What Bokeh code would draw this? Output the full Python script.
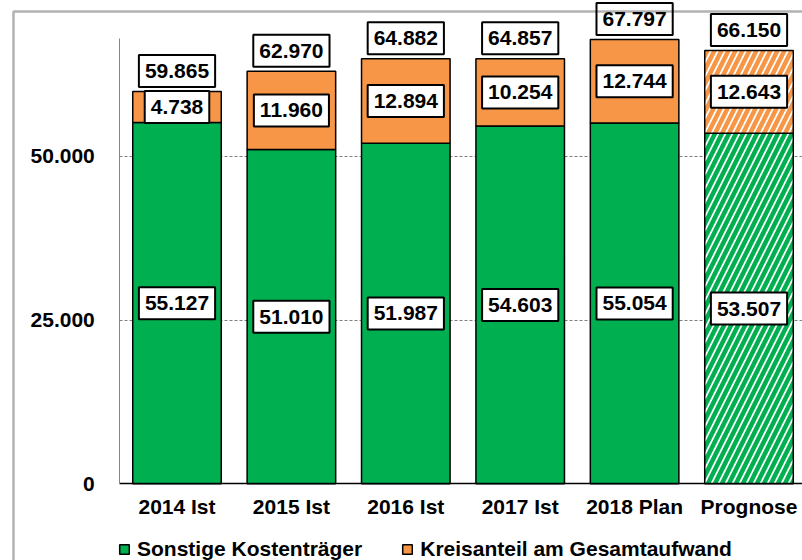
from bokeh.plotting import figure
from bokeh.models import (ColumnDataSource, Range1d, FixedTicker, Legend, LegendItem,
                          BoxAnnotation)
from bokeh.core.properties import value
from bokeh.embed import file_html
from bokeh.resources import INLINE

categories = ["2014 Ist", "2015 Ist", "2016 Ist", "2017 Ist", "2018 Plan", "Prognose"]
sonstige = [55127, 51010, 51987, 54603, 55054, 53507]
kreisanteil = [4738, 11960, 12894, 10254, 12744, 12643]
totals = [59865, 62970, 64882, 64857, 67797, 66150]
forecast = [False, False, False, False, False, True]
series_names = ["Sonstige Kostenträger", "Kreisanteil am Gesamtaufwand"]
y_ticks = [0, 25000, 50000]
y_tick_labels = ["0", "25.000", "50.000"]
grid_ticks = [25000, 50000]
y_axis_max = 68000

GREEN = "#00B050"
ORANGE = "#F79646"
FONT = "Liberation Sans"
BAR_W = 0.774

# canvas geometry (pixels)
W, H = 802, 560
AXIS_X = 119.3          # y-axis position on canvas
ZERO_Y = 483.3          # y=0 position on canvas
PX_PER_CAT = 114.4
PX_PER_UNIT = 0.006552

x_start = -0.5 - AXIS_X / PX_PER_CAT
x_end = -0.5 + (W - AXIS_X) / PX_PER_CAT
y_end = ZERO_Y / PX_PER_UNIT
y_start = -(H - ZERO_Y) / PX_PER_UNIT


def de(v):
    return f"{v:,}".replace(",", ".")


xs = list(range(len(categories)))


def make_src(flag):
    idx = [i for i in xs if forecast[i] == flag]
    return ColumnDataSource(dict(
        x=[xs[i] for i in idx],
        g_top=[sonstige[i] for i in idx],
        o_top=[sonstige[i] + kreisanteil[i] for i in idx],
    ))


src_act = make_src(False)
src_fc = make_src(True)

p = figure(width=W, height=H, x_range=Range1d(x_start, x_end), y_range=Range1d(y_start, y_end),
           output_backend="svg", toolbar_location=None,
           min_border_left=0, min_border_right=0, min_border_top=0, min_border_bottom=0)
p.outline_line_color = None

# outer chart border (left and top edges visible; right/bottom lie outside the window)
p.add_layout(BoxAnnotation(left=x_start + 13 / PX_PER_CAT, right=x_end + 1,
                           top=y_end - 11 / PX_PER_UNIT, bottom=y_start - 20000,
                           fill_alpha=0, line_color="black", line_width=2.5))

green_r = p.vbar(x="x", width=BAR_W, bottom=0, top="g_top", source=src_act,
                 fill_color=GREEN, line_color="black", line_width=1.5)
orange_r = p.vbar(x="x", width=BAR_W, bottom="g_top", top="o_top", source=src_act,
                  fill_color=ORANGE, line_color="black", line_width=1.5)
p.vbar(x="x", width=BAR_W, bottom=0, top="g_top", source=src_fc,
       fill_color="white", hatch_pattern="/", hatch_color=GREEN, hatch_scale=14, hatch_weight=4.5,
       line_color="black", line_width=1.5)
p.vbar(x="x", width=BAR_W, bottom="g_top", top="o_top", source=src_fc,
       fill_color="white", hatch_pattern="/", hatch_color=ORANGE, hatch_scale=14, hatch_weight=4.5,
       line_color="black", line_width=1.5)

lab_green = ColumnDataSource(dict(x=xs, y=[v / 2 for v in sonstige], t=[de(v) for v in sonstige]))
lab_orange = ColumnDataSource(dict(x=xs, y=[g + o / 2 for g, o in zip(sonstige, kreisanteil)],
                                   t=[de(v) for v in kreisanteil]))
lab_total = ColumnDataSource(dict(x=xs, y=[g + o for g, o in zip(sonstige, kreisanteil)],
                                  t=[de(v) for v in totals]))

for src, yoff in [(lab_green, 0), (lab_orange, 0), (lab_total, -20.5)]:
    p.text(x="x", y="y", text="t", source=src, y_offset=yoff,
           text_font=value(FONT), text_font_style="bold", text_font_size="21px",
           text_color="black", text_align="center", text_baseline="middle",
           background_fill_color="white", border_line_color="black", border_line_width=2,
           padding=dict(x=6, y=9))

# axes
p.xaxis.fixed_location = 0
p.xaxis.ticker = FixedTicker(ticks=xs)
p.xaxis.major_label_overrides = {i: c for i, c in zip(xs, categories)}
p.xaxis.bounds = (-0.5, x_end)
p.xaxis.axis_line_color = "black"
p.xaxis.axis_line_width = 1.5
p.xaxis.major_tick_line_color = None
p.xaxis.minor_tick_line_color = None
p.xaxis.major_label_standoff = 5
p.xaxis.major_label_text_font = FONT
p.xaxis.major_label_text_font_style = "bold"
p.xaxis.major_label_text_font_size = "21px"
p.xaxis.major_label_text_color = "black"

p.yaxis.fixed_location = -0.5
p.yaxis.ticker = FixedTicker(ticks=y_ticks)
p.yaxis.bounds = (0, y_axis_max)
p.yaxis.major_label_overrides = {t: l for t, l in zip(y_ticks, y_tick_labels)}
p.yaxis.axis_line_color = "#868686"
p.yaxis.major_tick_line_color = None
p.yaxis.minor_tick_line_color = None
p.yaxis.major_label_standoff = 19
p.yaxis.major_label_text_font = FONT
p.yaxis.major_label_text_font_style = "bold"
p.yaxis.major_label_text_font_size = "21px"
p.yaxis.major_label_text_color = "black"

p.xgrid.visible = False
p.ygrid.ticker = FixedTicker(ticks=grid_ticks)
p.ygrid.cross_bounds = (-0.5, x_end)
p.ygrid.grid_line_color = "#808080"
p.ygrid.grid_line_dash = "3 2"
p.ygrid.grid_line_width = 1

legend = Legend(items=[LegendItem(label=series_names[0], renderers=[green_r]),
                       LegendItem(label=series_names[1], renderers=[orange_r])],
                orientation="horizontal", location=(118, -1),
                glyph_width=12, glyph_height=12, label_standoff=7, spacing=39,
                padding=0, margin=0, border_line_color=None, background_fill_alpha=0,
                label_text_font=FONT, label_text_font_style="bold",
                label_text_font_size="21px", label_text_color="black")
p.add_layout(legend, "center")

open("out.html", "w").write(file_html(p, INLINE))
